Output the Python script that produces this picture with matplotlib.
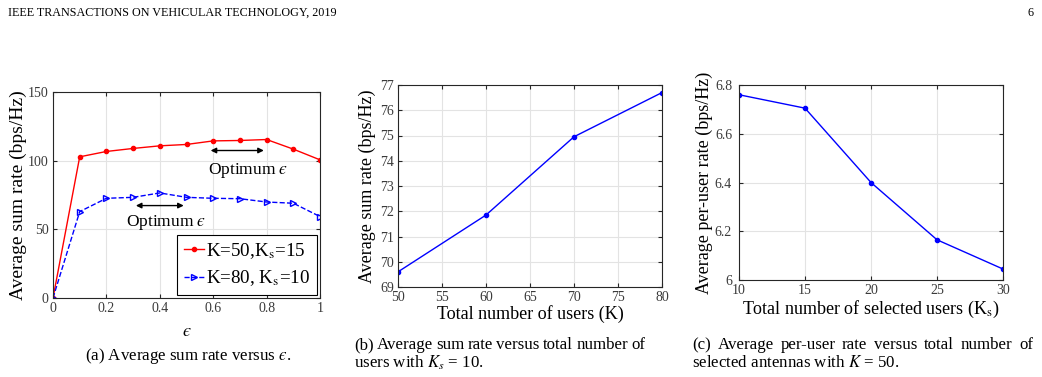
import matplotlib
matplotlib.use('Agg')
import matplotlib.pyplot as plt

plt.rcParams['font.family'] = 'Liberation Serif'
plt.rcParams['mathtext.fontset'] = 'stix'

# (a) sum rate versus epsilon
eps = [0, 0.1, 0.2, 0.3, 0.4, 0.5, 0.6, 0.7, 0.8, 0.9, 1.0]
rate_k50 = [0, 102.8, 106.7, 108.9, 110.8, 111.8, 114.4, 114.7, 115.4, 108.4, 100.6]
rate_k80 = [0, 62.9, 72.6, 73.3, 76.5, 73.3, 72.6, 72.3, 69.9, 69.0, 59.3]

# (b) sum rate versus number of users
users = [50, 60, 70, 80]
rate_users = [69.6, 71.85, 74.95, 76.7]

# (c) per-user rate versus selected users
sel_users = [10, 15, 20, 25, 30]
rate_sel = [6.76, 6.705, 6.40, 6.165, 6.045]

EPS = '$\u03f5$'  # lunate epsilon as in the paper

W, H = 1042, 377
fig = plt.figure(figsize=(W / 100, H / 100), dpi=100)


def ax_px(l, r, t, b):
    return fig.add_axes([l / W, (H - b) / H, (r - l) / W, (b - t) / H])


def matlab_style(ax):
    ax.grid(True, color='#e3e3e3', linewidth=0.8)
    ax.set_axisbelow(True)
    ax.tick_params(direction='in', length=3, labelsize=10, colors='#262626',
                   labelcolor='#3a3a3a', top=True, right=True, pad=3)
    for s in ax.spines.values():
        s.set_linewidth(0.8)
        s.set_color('#262626')


# ---- (a)
ax1 = ax_px(53, 320, 92, 298)
ax1.plot(eps, rate_k50, '-', color='red', marker='.', markersize=6, linewidth=1,
         label=r'K=50,K$_{\mathrm{s}}$=15')
ax1.plot(eps, rate_k80, '--', color='blue', marker='>', markersize=5, markerfacecolor='none',
         linewidth=1, label=r'K=80, K$_{\mathrm{s}}$=10')
ax1.set_xlim(0, 1)
ax1.set_ylim(0, 150)
ax1.set_xticks([0, 0.2, 0.4, 0.6, 0.8, 1])
ax1.set_xticklabels(['0', '0.2', '0.4', '0.6', '0.8', '1'])
ax1.set_yticks([0, 50, 100, 150])
matlab_style(ax1)
ax1.set_xlabel(EPS, fontsize=13, labelpad=6)
ax1.set_ylabel('Average sum rate (bps/Hz)', fontsize=14, labelpad=1)
ax1.annotate('', xy=(0.8, 107.4), xytext=(0.58, 107.4),
             arrowprops=dict(arrowstyle='<|-|>', color='black', lw=1, mutation_scale=8))
ax1.text(0.73, 93, 'Optimum ' + EPS, fontsize=12.5, ha='center', va='center')
ax1.annotate('', xy=(0.5, 67.3), xytext=(0.3, 67.3),
             arrowprops=dict(arrowstyle='<|-|>', color='black', lw=1, mutation_scale=8))
ax1.text(0.425, 55, 'Optimum ' + EPS, fontsize=12.5, ha='center', va='center')
leg = ax1.legend(loc='lower right', fontsize=13.7, frameon=True, fancybox=False,
                 edgecolor='black', handlelength=1.05, borderpad=0.35, labelspacing=0.4,
                 handletextpad=0.15, borderaxespad=0.15, framealpha=1)
leg.get_frame().set_linewidth(0.8)

# ---- (b)
ax2 = ax_px(398, 662, 85, 287)
ax2.plot(users, rate_users, '-', color='blue', marker='.', markersize=6, linewidth=1)
ax2.set_xlim(50, 80)
ax2.set_ylim(69, 77)
ax2.set_xticks(range(50, 81, 5))
ax2.set_yticks(range(69, 78))
matlab_style(ax2)
ax2.set_xlabel('Total number of users (K)', fontsize=13, labelpad=1)
ax2.set_ylabel('Average sum rate (bps/Hz)', fontsize=13, labelpad=3)

# ---- (c)
ax3 = ax_px(739, 1003, 85, 280)
ax3.plot(sel_users, rate_sel, '-', color='blue', marker='.', markersize=6, linewidth=1)
ax3.set_xlim(10, 30)
ax3.set_ylim(6, 6.8)
ax3.set_xticks(range(10, 31, 5))
ax3.set_yticks([6, 6.2, 6.4, 6.6, 6.8])
ax3.set_yticklabels(['6', '6.2', '6.4', '6.6', '6.8'])
matlab_style(ax3)
ax3.tick_params(axis='y', pad=5)
ax3.set_xlabel(r'Total number of selected users (K$_{\mathrm{s}}$)', fontsize=13, labelpad=1)
ax3.set_ylabel('Average per-user rate (bps/Hz)', fontsize=13, labelpad=1)

# ---- page header and captions
CAP = 12.2
fig.text(8 / W, 1 - 13 / H, 'IEEE TRANSACTIONS ON VEHICULAR TECHNOLOGY, 2019',
         fontsize=8.7, va='center', ha='left')
fig.text(1034 / W, 1 - 13 / H, '6', fontsize=8.7, va='center', ha='right')


def justified(words, x0, x1, y):
    # place words so the line fills x0..x1 (like a justified LaTeX line)
    r = fig.canvas.get_renderer()
    arts = [fig.text(0, 1 - y / H, w, fontsize=CAP, ha='left', va='center') for w in words]
    widths = [a.get_window_extent(r).width for a in arts]
    gap = (x1 - x0 - sum(widths)) / (len(words) - 1)
    x = x0
    for a, w in zip(arts, widths):
        a.set_x(x / W)
        x += w + gap


fig.text(188 / W, 1 - 356 / H, '(a) Average sum rate versus ' + EPS + '.',
         fontsize=CAP, ha='center', va='center')
justified('(b) Average sum rate versus total number of'.split(), 354, 645, 345)
fig.text(354 / W, 1 - 363 / H, r'users with $K_s$ = 10.',
         fontsize=CAP, ha='left', va='center')
justified('(c) Average per-user rate versus total number of'.split(), 692, 1033, 345)
fig.text(692 / W, 1 - 363 / H, r'selected antennas with $K$ = 50.',
         fontsize=CAP, ha='left', va='center')

fig.savefig('out.png', dpi=100)
